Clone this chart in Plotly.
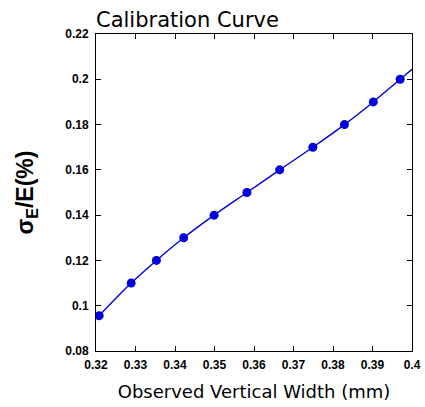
import plotly.graph_objects as go

# Measured calibration points
width_mm = [0.3208, 0.3289, 0.3353, 0.3422, 0.3499, 0.3582, 0.3665, 0.3749, 0.3829, 0.3902, 0.3970]
sigma_pct = [0.0956, 0.11, 0.12, 0.13, 0.14, 0.15, 0.16, 0.17, 0.18, 0.19, 0.20]

# Fitted curve (extends to the right edge)
curve_x = width_mm + [0.4]
curve_y = sigma_pct + [0.2044]

x_ticks = [0.32, 0.33, 0.34, 0.35, 0.36, 0.37, 0.38, 0.39, 0.4]
y_ticks = [0.08, 0.1, 0.12, 0.14, 0.16, 0.18, 0.2, 0.22]

blue = "#0000dd"
fig = go.Figure()
fig.add_trace(go.Scatter(x=curve_x, y=curve_y, mode="lines",
                         line=dict(color=blue, width=1.4, shape="spline"),
                         hoverinfo="skip", showlegend=False))
fig.add_trace(go.Scatter(x=width_mm, y=sigma_pct, mode="markers",
                         marker=dict(color=blue, size=9), showlegend=False))

axis_common = dict(showgrid=False, zeroline=False, showline=True, linecolor="black",
                   linewidth=1, mirror="ticks", ticks="inside", ticklen=5,
                   tickcolor="black", tickwidth=1, automargin=False,
                   tickfont=dict(family="Liberation Sans, Arial", size=12, color="black",
                                 weight="bold"))

fig.update_layout(
    width=425, height=407,
    margin=dict(l=96, r=13, t=34, b=56),
    paper_bgcolor="white", plot_bgcolor="white",
    title=dict(text="Calibration Curve", x=96/425, xanchor="left",
               y=1-20/407, yanchor="middle",
               font=dict(family="DejaVu Sans", size=21, color="black")),
    xaxis=dict(range=[0.32, 0.4], tickvals=x_ticks,
               ticktext=[f"{v:g}" for v in x_ticks],
               ticklabelstandoff=3,
               title=dict(text="Observed Vertical Width (mm)", standoff=13,
                          font=dict(family="DejaVu Sans", size=18, color="black")),
               **axis_common),
    yaxis=dict(range=[0.08, 0.22], tickvals=y_ticks,
               ticktext=[f"{v:g}" for v in y_ticks],
               ticklabelstandoff=4,
               title=dict(text="<b>σ<sub>E</sub>/E(%)</b>", standoff=25,
                          font=dict(family="Liberation Sans, Arial", size=23, color="black")),
               **axis_common),
)

fig.write_html("out.html", config={"displayModeBar": False},
               post_script="document.body.style.margin='0px';")
